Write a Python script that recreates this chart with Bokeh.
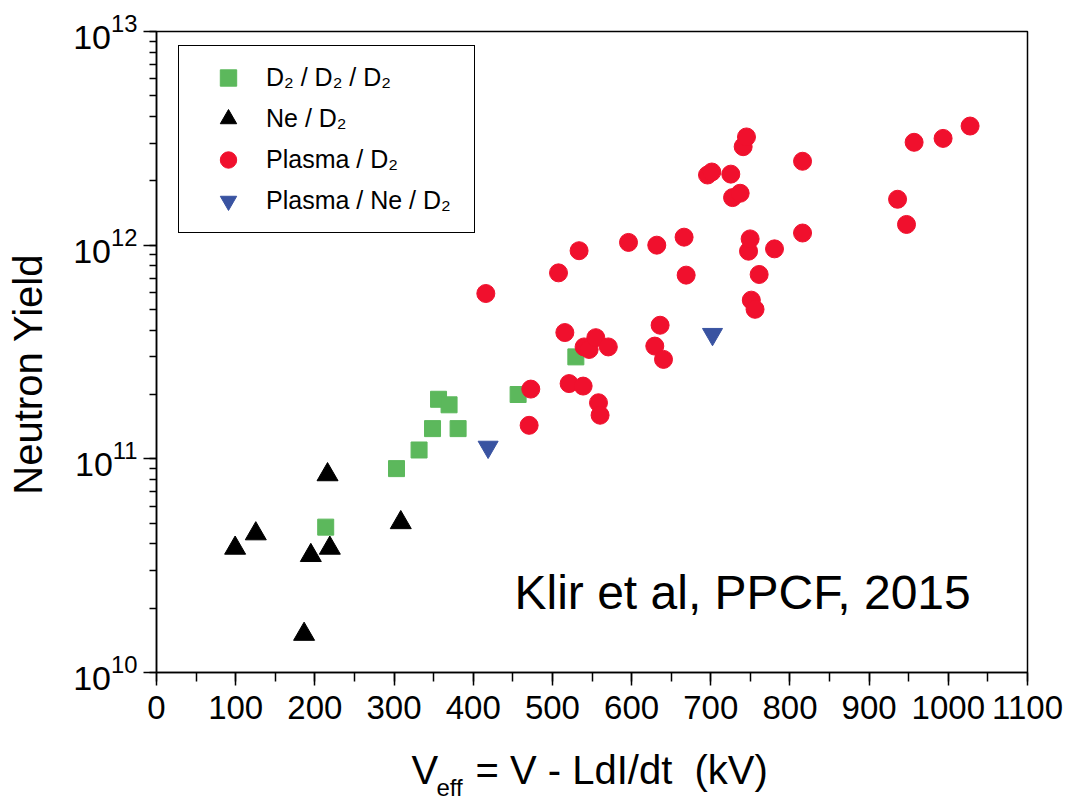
from bokeh.plotting import figure
from bokeh.layouts import column
from bokeh.models import Range1d, Label, LogTicker, SingleIntervalTicker
from bokeh.core.properties import value
from bokeh.embed import file_html
from bokeh.resources import INLINE

# ---- data ----
d2_x = [213.7, 303.1, 331.6, 348.6, 356.2, 369.5, 380.9, 456.7, 529.6]
d2_y = [4.79e10, 9.0e10, 1.10e11, 1.385e11, 1.90e11, 1.79e11, 1.385e11, 2.0e11, 3.0e11]

ne_x = [99.3, 125.4, 194.9, 216.0, 218.9, 186.4, 308.5]
ne_y = [3.82e10, 4.46e10, 3.53e10, 8.43e10, 3.82e10, 1.51e10, 5.03e10]

pl_x = [415.9, 470.6, 472.7, 507.7, 515.7, 521.1, 533.7, 538.8, 540.0, 546.4,
        554.8, 558.2, 560.2, 570.6, 596.1, 629.3, 631.8, 636.0, 640.3, 666.3,
        668.9, 695.9, 701.3, 725.3, 727.5, 737.1, 740.9, 745.1, 747.7, 749.7,
        751.2, 755.9, 761.1, 780.5, 815.9, 815.9, 935.9, 947.2, 956.8, 993.4,
        1027.5]
pl_y = [5.94e11, 1.435e11, 2.12e11, 7.42e11, 3.90e11, 2.25e11, 9.42e11, 2.19e11, 3.34e11, 3.25e11,
        3.69e11, 1.83e11, 1.60e11, 3.34e11, 1.03e12, 3.37e11, 1.00e12, 4.22e11, 2.92e11, 1.09e12,
        7.24e11, 2.13e12, 2.20e12, 2.15e12, 1.67e12, 1.75e12, 2.89e12, 3.21e12, 9.37e11, 1.07e12,
        5.53e11, 5.01e11, 7.29e11, 9.61e11, 2.47e12, 1.14e12, 1.64e12, 1.25e12, 3.03e12, 3.16e12,
        3.61e12]

pn_x = [418.8, 702.2]
pn_y = [1.136e11, 3.83e11]

labels = ["D\u2082 / D\u2082 / D\u2082", "Ne / D\u2082", "Plasma / D\u2082", "Plasma / Ne / D\u2082"]
y_title = "Neutron Yield"
x_title_parts = ["V", "eff", "= V - LdI/dt \u00a0(kV)"]
note = "Klir et al, PPCF, 2015"

FONT = "Liberation Sans"
W, H_MAIN, H_XT = 1068, 736, 64
LEFT, RIGHT, TOP, BOTTOM = 156, 41, 31, 672

p = figure(width=W, height=H_MAIN, x_range=Range1d(0, 1100), y_range=Range1d(1e10, 1e13),
           y_axis_type="log", output_backend="svg", toolbar_location=None)
p.min_border_left = LEFT
p.min_border_right = RIGHT
p.min_border_top = TOP
p.min_border_bottom = H_MAIN - BOTTOM
p.background_fill_color = "white"
p.border_fill_color = "white"
p.xgrid.visible = False
p.ygrid.visible = False
p.outline_line_color = "black"
p.outline_line_width = 1.5
p.outline_line_alpha = 1.0

p.xaxis.ticker = SingleIntervalTicker(interval=100, num_minor_ticks=2)
p.yaxis.ticker = LogTicker(num_minor_ticks=10)

for ax in (p.xaxis, p.yaxis):
    ax.axis_line_color = "black"
    ax.axis_line_width = 1.5
    ax.major_tick_line_color = "black"
    ax.minor_tick_line_color = "black"
    ax.major_tick_line_width = 1.5
    ax.minor_tick_line_width = 1.5
    ax.major_tick_in = 0
    ax.minor_tick_in = 0
    ax.major_tick_out = 13
    ax.major_label_text_font = FONT
    ax.major_label_text_color = "black"
p.xaxis.major_label_standoff = 10
p.yaxis.major_label_standoff = 6
p.xaxis.minor_tick_out = 9
p.yaxis.minor_tick_out = 7
p.xaxis.major_label_text_font_size = "33px"
p.yaxis.major_label_text_font_size = "34px"

# y title: trailing no-break spaces move the visible text below the frame centre
p.yaxis.axis_label = y_title + "\u00a0" * 4
p.yaxis.axis_label_text_font = FONT
p.yaxis.axis_label_text_font_size = "40px"
p.yaxis.axis_label_text_font_style = "normal"
p.yaxis.axis_label_text_color = "black"
p.yaxis.axis_label_standoff = 20

p.scatter(d2_x, d2_y, marker="square", size=16, fill_color="#5cb85c", line_color="#5cb85c",
          legend_label=labels[0])
p.scatter(ne_x, ne_y, marker="triangle", size=21, fill_color="black", line_color="black",
          legend_label=labels[1])
p.scatter(pl_x, pl_y, marker="circle", size=18, fill_color="#f0102d", line_color="#f0102d",
          legend_label=labels[2])
p.scatter(pn_x, pn_y, marker="inverted_triangle", size=20, fill_color="#3953a1", line_color="#3953a1",
          legend_label=labels[3])

lg = p.legend[0]
lg.location = (22, 439)
lg.margin = 0
lg.padding = 11
lg.spacing = 0
lg.glyph_width = 76
lg.glyph_height = 41
lg.label_height = 41
lg.label_width = 197
lg.label_standoff = 0
lg.label_text_font = FONT
lg.label_text_font_size = "25px"
lg.label_text_color = "black"
lg.border_line_color = "black"
lg.border_line_width = 1.5
lg.border_line_alpha = 1.0
lg.background_fill_alpha = 1.0

p.add_layout(Label(x=358, y=80, x_units="screen", y_units="screen", text=note,
                   text_font=FONT, text_font_size="48px", text_align="left",
                   text_baseline="middle", text_color="black"))

# x title strip (with the subscript); its frame lines up with the main frame,
# so its x range is in page pixels over that frame
xt = figure(width=W, height=H_XT, x_range=Range1d(LEFT, W - RIGHT), y_range=Range1d(0, H_XT),
            output_backend="svg", toolbar_location=None, title=None,
            x_axis_location=None, y_axis_location=None)
xt.min_border_left = LEFT
xt.min_border_right = RIGHT
xt.min_border_top = 0
xt.min_border_bottom = 0
xt.outline_line_color = None
xt.xgrid.visible = False
xt.ygrid.visible = False
xt.background_fill_color = "white"
xt.border_fill_color = "white"

xt_x = [411, 436, 475]
xt_y = [30.5, 13.5, 30.5]
xt_size = ["40px", "24px", "40px"]
xt.text(x=xt_x, y=xt_y, text=x_title_parts, text_font=value(FONT), text_font_size=xt_size,
        text_align="left", text_baseline="middle", text_color="black")

open("out.html", "w").write(file_html(column(p, xt, spacing=0), INLINE))
